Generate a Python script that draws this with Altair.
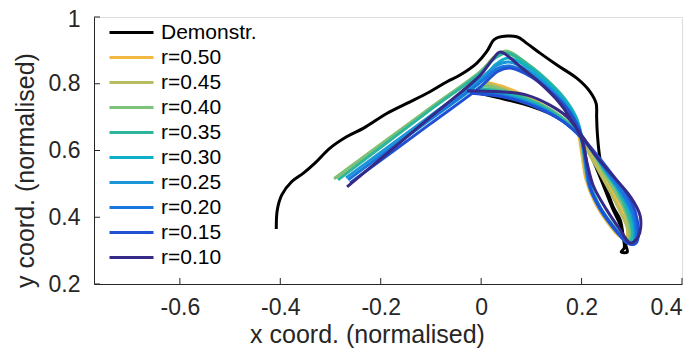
import altair as alt
import pandas as pd

series = ["Demonstr.", "r=0.50", "r=0.45", "r=0.40", "r=0.35", "r=0.30",
          "r=0.25", "r=0.20", "r=0.15", "r=0.10"]
colors = ["#000000", "#f1b941", "#b7bc5e", "#7dc27a", "#2eb69c", "#0fafc8",
          "#1a96d8", "#1877df", "#2151d3", "#352a87"]

demo_x = [-0.408, -0.406, -0.397, -0.377, -0.354, -0.331, -0.301, -0.268, -0.234, -0.188,
          -0.148, -0.102, -0.068, -0.042, -0.009, 0.011, 0.025, 0.034, 0.071, 0.091,
          0.118, 0.151, 0.191, 0.217, 0.229, 0.230, 0.231, 0.235, 0.243, 0.253,
          0.263, 0.277, 0.283, 0.285, 0.279, 0.291, 0.287, 0.277, 0.263, 0.247,
          0.231, 0.211, 0.191, 0.151, 0.104, 0.038, -0.036]
demo_y = [0.365, 0.422, 0.467, 0.507, 0.532, 0.562, 0.607, 0.641, 0.667, 0.711,
          0.741, 0.776, 0.806, 0.826, 0.861, 0.896, 0.931, 0.939, 0.941, 0.921,
          0.891, 0.856, 0.816, 0.776, 0.741, 0.701, 0.661, 0.593, 0.521, 0.473,
          0.431, 0.392, 0.341, 0.308, 0.296, 0.296, 0.320, 0.377, 0.422, 0.482,
          0.542, 0.610, 0.655, 0.700, 0.730, 0.757, 0.781]

r050_x = [-0.289, -0.102, -0.002, 0.026, 0.044, 0.086, 0.125, 0.159, 0.181, 0.193, 0.201, 0.209, 0.227,
          0.251, 0.275, 0.289, 0.291, 0.279, 0.259, 0.235, 0.213, 0.191, 0.157, 0.108, 0.052, 0.008]
r050_y = [0.518, 0.724, 0.832, 0.877, 0.895, 0.865, 0.817, 0.763, 0.709, 0.655, 0.584, 0.512, 0.443,
          0.386, 0.344, 0.341, 0.374, 0.422, 0.482, 0.548, 0.604, 0.655, 0.703, 0.748, 0.787, 0.805]

r045_x = [-0.291, -0.102, -0.002, 0.026, 0.046, 0.088, 0.127, 0.161, 0.183, 0.195, 0.203, 0.211, 0.229,
          0.253, 0.277, 0.291, 0.291, 0.277, 0.257, 0.233, 0.211, 0.191, 0.157, 0.108, 0.052, 0.010]
r045_y = [0.518, 0.727, 0.835, 0.880, 0.895, 0.862, 0.814, 0.760, 0.706, 0.652, 0.584, 0.512, 0.446,
          0.386, 0.344, 0.338, 0.368, 0.416, 0.476, 0.542, 0.601, 0.652, 0.700, 0.742, 0.781, 0.802]

r040_x = [-0.293, -0.102, -0.002, 0.026, 0.050, 0.091, 0.131, 0.163, 0.185, 0.197, 0.205, 0.213, 0.231,
          0.257, 0.281, 0.293, 0.297, 0.287, 0.267, 0.243, 0.221, 0.197, 0.163, 0.118, 0.058, 0.002]
r040_y = [0.515, 0.726, 0.836, 0.877, 0.898, 0.861, 0.811, 0.760, 0.706, 0.655, 0.587, 0.512, 0.443,
          0.386, 0.344, 0.332, 0.356, 0.416, 0.476, 0.536, 0.596, 0.646, 0.697, 0.739, 0.775, 0.796]

r035_x = [-0.285, -0.102, -0.002, 0.028, 0.052, 0.094, 0.133, 0.167, 0.189, 0.199, 0.207, 0.215, 0.233,
          0.259, 0.283, 0.297, 0.301, 0.291, 0.271, 0.245, 0.221, 0.197, 0.161, 0.114, 0.054, -0.006]
r035_y = [0.512, 0.721, 0.832, 0.877, 0.892, 0.856, 0.808, 0.754, 0.700, 0.646, 0.578, 0.506, 0.437,
          0.380, 0.338, 0.329, 0.356, 0.416, 0.482, 0.542, 0.601, 0.649, 0.697, 0.739, 0.772, 0.787]

r030_x = [-0.197, -0.102, -0.002, 0.030, 0.054, 0.096, 0.135, 0.169, 0.191, 0.201, 0.209, 0.217, 0.237,
          0.263, 0.287, 0.301, 0.305, 0.297, 0.277, 0.249, 0.223, 0.197, 0.161, 0.114, 0.054, -0.010]
r030_y = [0.587, 0.693, 0.804, 0.859, 0.877, 0.847, 0.799, 0.745, 0.691, 0.637, 0.572, 0.500, 0.431,
          0.374, 0.332, 0.323, 0.353, 0.413, 0.476, 0.536, 0.596, 0.643, 0.691, 0.733, 0.766, 0.781]

r025_x = [-0.269, -0.102, -0.002, 0.032, 0.056, 0.098, 0.137, 0.171, 0.191, 0.201, 0.207, 0.215, 0.237,
          0.265, 0.289, 0.303, 0.307, 0.299, 0.279, 0.251, 0.225, 0.199, 0.163, 0.116, 0.054, -0.014]
r025_y = [0.518, 0.703, 0.814, 0.856, 0.865, 0.835, 0.787, 0.733, 0.679, 0.625, 0.563, 0.494, 0.425,
          0.368, 0.328, 0.323, 0.353, 0.413, 0.473, 0.533, 0.593, 0.640, 0.688, 0.730, 0.763, 0.778]

r020_x = [-0.265, -0.102, -0.002, 0.034, 0.058, 0.098, 0.139, 0.173, 0.193, 0.203, 0.209, 0.217, 0.239,
          0.267, 0.291, 0.305, 0.309, 0.303, 0.283, 0.255, 0.227, 0.201, 0.165, 0.118, 0.054, -0.018]
r020_y = [0.512, 0.693, 0.804, 0.847, 0.853, 0.826, 0.778, 0.724, 0.670, 0.616, 0.554, 0.488, 0.419,
          0.362, 0.323, 0.320, 0.350, 0.410, 0.470, 0.530, 0.587, 0.637, 0.685, 0.727, 0.760, 0.775]

r015_x = [-0.261, -0.102, -0.002, 0.034, 0.058, 0.100, 0.141, 0.175, 0.195, 0.205, 0.211, 0.219, 0.243,
          0.271, 0.295, 0.309, 0.313, 0.307, 0.287, 0.257, 0.229, 0.201, 0.165, 0.118, 0.054, -0.022]
r015_y = [0.503, 0.679, 0.790, 0.838, 0.847, 0.820, 0.772, 0.718, 0.664, 0.610, 0.548, 0.482, 0.413,
          0.356, 0.320, 0.323, 0.356, 0.416, 0.476, 0.536, 0.590, 0.637, 0.685, 0.724, 0.757, 0.772]

r010_x = [-0.267, -0.102, -0.002, 0.022, 0.038, 0.078, 0.118, 0.157, 0.184, 0.201, 0.211, 0.224, 0.250,
          0.277, 0.297, 0.313, 0.317, 0.297, 0.264, 0.230, 0.197, 0.171, 0.137, 0.091, 0.038, -0.028]
r010_y = [0.491, 0.699, 0.825, 0.871, 0.895, 0.851, 0.801, 0.741, 0.681, 0.631, 0.562, 0.492, 0.422,
          0.362, 0.323, 0.342, 0.402, 0.462, 0.521, 0.581, 0.652, 0.701, 0.736, 0.766, 0.776, 0.779]

x_ticks = [-0.6, -0.4, -0.2, 0, 0.2, 0.4]
y_ticks = [0.2, 0.4, 0.6, 0.8, 1.0]

curves = [demo_x, demo_y, r050_x, r050_y, r045_x, r045_y, r040_x, r040_y, r035_x, r035_y,
          r030_x, r030_y, r025_x, r025_y, r020_x, r020_y, r015_x, r015_y, r010_x, r010_y]

rows = []
for k, name in enumerate(series):
    xs, ys = curves[2 * k], curves[2 * k + 1]
    for i, (xv, yv) in enumerate(zip(xs, ys)):
        rows.append({"series": name, "i": i, "x": xv, "y": yv})
df = pd.DataFrame(rows)

FONT = "Liberation Sans"
AX = "#262626"
W, H = 588, 267

xscale = alt.Scale(domain=[-0.771, 0.4], nice=False, zero=False)
yscale = alt.Scale(domain=[0.2, 1.0], nice=False, zero=False)

xaxis = alt.Axis(
    values=x_ticks, ticks=False, tickSize=0, grid=False, domainColor=AX, domainWidth=1,
    labelFont=FONT, labelFontSize=23, labelColor=AX, labelPadding=12,
    labelExpr="datum.value == 0 ? '0' : (datum.value < 0 ? '-' : '') + format(abs(datum.value), '.1f')",
    title="x coord. (normalised)", titleFont=FONT, titleFontSize=25, titleFontWeight="normal",
    titleColor=AX, titleX=273, titleY=58, titleBaseline="alphabetic", titleAlign="center")
yaxis = alt.Axis(
    values=y_ticks, ticks=False, tickSize=0, grid=False, domainColor=AX, domainWidth=1,
    labelFont=FONT, labelFontSize=23, labelColor=AX, labelPadding=14,
    labelExpr="datum.value == 1 ? '1' : format(datum.value, '.1f')",
    labelOffset={"condition": {"test": "datum.value == 1", "value": 2}, "value": 0},
    title="y coord. (normalised)", titleFont=FONT, titleFontSize=25, titleFontWeight="normal",
    titleColor=AX, titleX=-61, titleY=153, titleAngle=270, titleBaseline="alphabetic",
    titleAlign="center")

lines = alt.Chart(df).mark_line(strokeWidth=3, interpolate="catmull-rom").encode(
    x=alt.X("x:Q", scale=xscale, axis=xaxis, title="x coord. (normalised)"),
    y=alt.Y("y:Q", scale=yscale, axis=yaxis, title="y coord. (normalised)"),
    color=alt.Color("series:N", scale=alt.Scale(domain=series, range=colors),
                    sort=series,
                    legend=alt.Legend(orient="none", legendX=14, legendY=3, title=None,
                                      symbolType="stroke", symbolSize=1936, symbolStrokeWidth=3,
                                      clipHeight=25, rowPadding=0, labelFontSize=21,
                                      labelFont=FONT, labelColor="black", labelOffset=6,
                                      labelLimit=300, padding=0)),
    order=alt.Order("i:Q"),
)

xt = alt.Chart(pd.DataFrame({"x": x_ticks})).mark_rule(color=AX, strokeWidth=1).encode(
    x=alt.X("x:Q", scale=xscale, axis=xaxis, title="x coord. (normalised)"),
    y=alt.value(H), y2=alt.value(H - 6))
yt = alt.Chart(pd.DataFrame({"y": y_ticks})).mark_rule(color=AX, strokeWidth=1).encode(
    y=alt.Y("y:Q", scale=yscale, axis=yaxis, title="y coord. (normalised)"),
    x=alt.value(0), x2=alt.value(6))

chart = alt.layer(lines, xt, yt).properties(
    width=W, height=H,
    autosize=alt.AutoSizeParams(type="none"),
    padding={"left": 86, "top": 9, "right": 7, "bottom": 64},
).configure_view(stroke=None).configure(background="white")

chart.save("out.html", embed_options={"renderer": "svg", "actions": False})
